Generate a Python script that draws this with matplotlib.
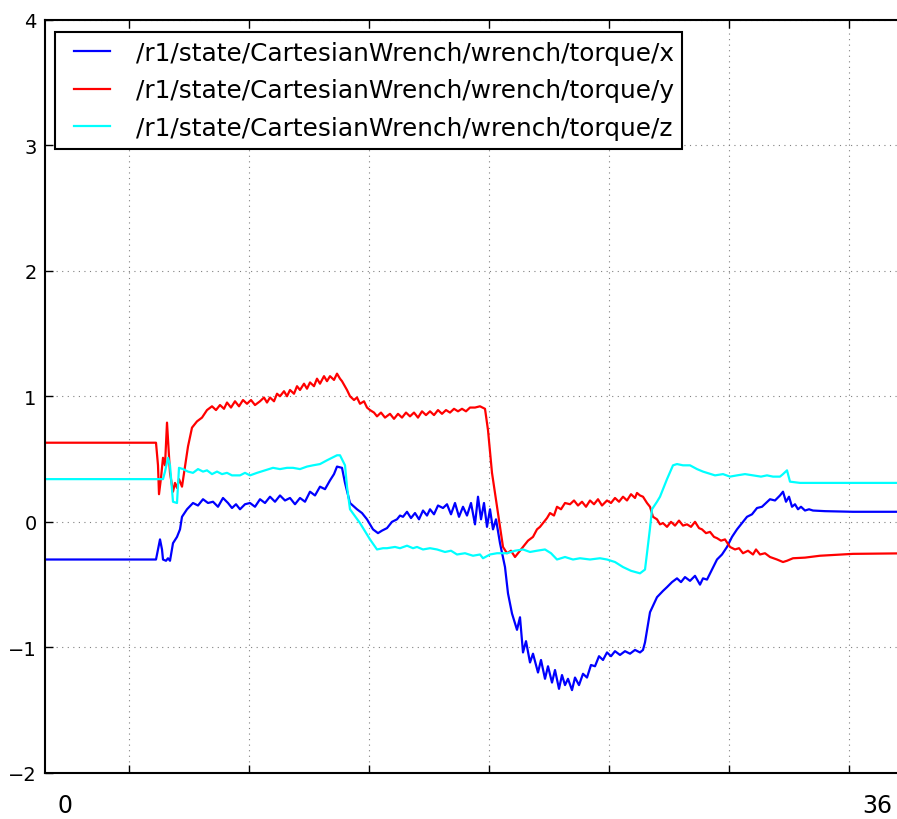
import matplotlib
matplotlib.use("Agg")
import matplotlib.pyplot as plt
from matplotlib.legend_handler import HandlerLine2D

# sample index (1 sample ~ one step of the recorder), value
tx = [0, 111, 113, 115, 117, 118, 121, 123, 125, 128, 132, 135, 137, 142, 148, 153, 158, 163, 168, 173,
      178, 183, 187, 191, 195, 200, 205, 210, 215, 220, 225, 230, 235, 240, 245, 250, 255, 260, 265, 270,
      275, 280, 285, 289, 292, 297, 300, 305, 312, 317, 322, 328, 333, 337, 342, 347, 352, 355, 358, 362,
      366, 370, 374, 378, 382, 385, 389, 393, 398, 402, 406, 410, 414, 418, 422, 426, 430, 433, 436, 439,
      442, 445, 448, 451, 455, 460, 463, 467, 472, 475, 478, 481, 485, 488, 493, 496, 500, 503, 507, 510,
      514, 517, 520, 523, 527, 530, 534, 538, 542, 546, 550, 554, 558, 562, 566, 570, 575, 580, 585, 590,
      595, 598, 600, 605, 612, 618, 622, 627, 632, 636, 640, 645, 650, 655, 658, 662, 667, 672, 677, 682,
      687, 692, 697, 702, 707, 712, 717, 725, 730, 735, 738, 741, 744, 747, 750, 753, 756, 760, 764, 768,
      780, 808, 870]
vx = [-0.30, -0.30, -0.22, -0.14, -0.22, -0.30, -0.31, -0.29, -0.31, -0.17, -0.12, -0.06, 0.04, 0.10, 0.15, 0.13, 0.18, 0.15, 0.16, 0.12,
      0.19, 0.15, 0.11, 0.14, 0.10, 0.14, 0.15, 0.12, 0.18, 0.15, 0.20, 0.16, 0.21, 0.17, 0.19, 0.14, 0.19, 0.16, 0.24, 0.21,
      0.28, 0.26, 0.33, 0.38, 0.44, 0.43, 0.31, 0.15, 0.10, 0.07, 0.02, -0.06, -0.09, -0.07, -0.05, 0.00, 0.02, 0.05, 0.04, 0.08,
      0.03, 0.07, 0.02, 0.09, 0.05, 0.10, 0.06, 0.13, 0.11, 0.14, 0.06, 0.15, 0.04, 0.12, 0.05, 0.15, -0.02, 0.20, 0.02, 0.15,
      -0.04, 0.10, -0.06, 0.02, -0.17, -0.36, -0.57, -0.73, -0.86, -0.76, -1.04, -0.95, -1.12, -1.05, -1.20, -1.10, -1.25, -1.15, -1.28, -1.18,
      -1.33, -1.22, -1.30, -1.25, -1.34, -1.24, -1.30, -1.21, -1.24, -1.14, -1.15, -1.07, -1.10, -1.04, -1.07, -1.03, -1.06, -1.03, -1.05, -1.02,
      -1.04, -1.02, -0.96, -0.72, -0.60, -0.55, -0.52, -0.48, -0.45, -0.48, -0.44, -0.47, -0.43, -0.50, -0.45, -0.46, -0.38, -0.30, -0.26, -0.20,
      -0.12, -0.06, -0.01, 0.04, 0.06, 0.11, 0.12, 0.18, 0.17, 0.21, 0.24, 0.16, 0.20, 0.12, 0.14, 0.10, 0.12, 0.09, 0.10, 0.09,
      0.085, 0.08, 0.08]

ty = [0, 111, 113, 114, 116, 118, 120, 122, 125, 128, 130, 132, 134, 137, 140, 143, 147, 152, 157, 162,
      167, 171, 175, 179, 182, 186, 190, 194, 198, 202, 206, 210, 215, 219, 222, 225, 229, 232, 235, 239,
      242, 245, 249, 252, 255, 259, 262, 265, 269, 272, 275, 279, 282, 285, 289, 292, 295, 297, 302, 305,
      309, 312, 315, 319, 322, 325, 329, 332, 336, 340, 345, 349, 353, 357, 361, 365, 369, 373, 377, 381,
      385, 389, 393, 397, 401, 405, 409, 413, 417, 421, 425, 430, 435, 440, 443, 447, 452, 458, 462, 466,
      470, 474, 478, 483, 488, 492, 495, 498, 502, 505, 509, 512, 516, 520, 525, 529, 533, 537, 541, 545,
      549, 553, 557, 562, 566, 570, 574, 578, 582, 586, 590, 592, 595, 598, 602, 605, 608, 612, 615, 618,
      622, 626, 630, 634, 638, 642, 646, 650, 654, 657, 661, 665, 669, 672, 676, 680, 685, 690, 694, 698,
      703, 708, 711, 715, 720, 725, 732, 738, 742, 748, 760, 775, 808, 870]
vy = [0.63, 0.63, 0.45, 0.22, 0.35, 0.51, 0.45, 0.79, 0.39, 0.24, 0.31, 0.27, 0.34, 0.28, 0.44, 0.60, 0.75, 0.80, 0.83, 0.89,
      0.92, 0.89, 0.93, 0.90, 0.95, 0.91, 0.96, 0.92, 0.97, 0.94, 0.97, 0.93, 0.96, 0.99, 0.95, 0.99, 0.96, 1.02, 1.00, 1.04,
      1.00, 1.05, 1.02, 1.08, 1.05, 1.10, 1.06, 1.11, 1.08, 1.14, 1.10, 1.16, 1.12, 1.16, 1.13, 1.18, 1.14, 1.12, 1.05, 1.00,
      0.97, 0.99, 0.94, 0.96, 0.91, 0.89, 0.87, 0.84, 0.87, 0.83, 0.86, 0.82, 0.86, 0.83, 0.87, 0.84, 0.87, 0.83, 0.88, 0.85,
      0.88, 0.85, 0.89, 0.86, 0.89, 0.87, 0.90, 0.88, 0.90, 0.88, 0.91, 0.91, 0.92, 0.90, 0.73, 0.39, 0.12, -0.20, -0.25, -0.23,
      -0.28, -0.24, -0.20, -0.15, -0.12, -0.06, -0.04, -0.01, 0.03, 0.07, 0.05, 0.12, 0.10, 0.15, 0.14, 0.17, 0.13, 0.16, 0.12, 0.17,
      0.14, 0.18, 0.13, 0.17, 0.15, 0.19, 0.16, 0.20, 0.17, 0.22, 0.19, 0.23, 0.21, 0.20, 0.15, 0.12, 0.04, 0.02, -0.02, -0.01,
      -0.04, 0.00, -0.03, 0.01, -0.03, -0.02, -0.04, 0.00, -0.05, -0.06, -0.09, -0.08, -0.12, -0.13, -0.15, -0.14, -0.20, -0.22, -0.21, -0.25,
      -0.23, -0.26, -0.22, -0.26, -0.25, -0.28, -0.30, -0.32, -0.31, -0.29, -0.285, -0.27, -0.255, -0.25]

tz = [0, 118, 120, 123, 125, 128, 132, 134, 138, 143, 148, 153, 158, 162, 167, 172, 177, 182, 187, 195,
      200, 205, 212, 220, 228, 235, 242, 248, 255, 262, 268, 275, 282, 287, 292, 295, 300, 302, 305, 315,
      325, 332, 338, 342, 350, 355, 362, 368, 372, 378, 385, 392, 400, 406, 412, 420, 428, 435, 438, 445,
      452, 462, 470, 478, 485, 492, 500, 506, 512, 520, 528, 535, 545, 555, 562, 570, 578, 586, 595, 600,
      602, 605, 607, 612, 615, 622, 628, 632, 638, 645, 652, 658, 662, 670, 678, 685, 692, 700, 708, 716,
      722, 728, 735, 738, 742, 745, 755, 775, 870]
vz = [0.34, 0.34, 0.40, 0.51, 0.45, 0.16, 0.15, 0.43, 0.42, 0.40, 0.39, 0.42, 0.40, 0.41, 0.38, 0.40, 0.38, 0.39, 0.37, 0.37,
      0.39, 0.37, 0.39, 0.41, 0.43, 0.42, 0.43, 0.43, 0.42, 0.44, 0.45, 0.46, 0.49, 0.51, 0.53, 0.53, 0.45, 0.28, 0.10, -0.01,
      -0.14, -0.22, -0.21, -0.21, -0.20, -0.21, -0.19, -0.21, -0.20, -0.22, -0.21, -0.22, -0.24, -0.23, -0.26, -0.25, -0.27, -0.26, -0.29, -0.26,
      -0.25, -0.25, -0.23, -0.22, -0.24, -0.23, -0.22, -0.25, -0.30, -0.28, -0.30, -0.29, -0.30, -0.29, -0.30, -0.32, -0.36, -0.39, -0.41, -0.38,
      -0.25, -0.05, 0.10, 0.16, 0.20, 0.34, 0.45, 0.46, 0.45, 0.45, 0.42, 0.40, 0.39, 0.37, 0.38, 0.36, 0.37, 0.38, 0.37, 0.36,
      0.37, 0.36, 0.36, 0.38, 0.41, 0.32, 0.31, 0.31, 0.31]

labels = ["/r1/state/CartesianWrench/wrench/torque/x",
          "/r1/state/CartesianWrench/wrench/torque/y",
          "/r1/state/CartesianWrench/wrench/torque/z"]
colors = ["blue", "red", "cyan"]
xticks = [84, 204, 324, 444, 564, 684, 804]
yticks = [-2, -1, 0, 1, 2, 3, 4]
ytick_labels = ["\u22122", "\u22121", "0", "1", "2", "3", "4"]

W, H = 897, 820
fig = plt.figure(figsize=(W / 100, H / 100), dpi=100)
ax = fig.add_axes([45 / W, 46 / H, 864 / W, 753.5 / H])
lines = []
for t, v, c, lab in zip([tx, ty, tz], [vx, vy, vz], colors, labels):
    ln, = ax.plot(t, v, color=c, lw=1.6, label=lab)
    lines.append(ln)
ax.set_xlim(0, 864)
ax.set_ylim(-2, 4)
ax.set_xticks(xticks)
ax.set_xticklabels([])
ax.set_yticks(yticks)
ax.set_yticklabels(ytick_labels, fontsize=14)
ax.tick_params(direction="in", length=6, width=1, top=True, right=True, pad=6)
ax.grid(True, linestyle=(0, (1, 4)), color="0.5", lw=0.8)
for s in ax.spines.values():
    s.set_linewidth(1.5)
hm = {ln: HandlerLine2D(xpad=0.4) for ln in lines}
leg = ax.legend(loc="upper left", bbox_to_anchor=(10 / 864, 1 - 12.5 / 753.5), fontsize=17.8,
                frameon=True, fancybox=False, edgecolor="black", framealpha=1,
                handlelength=1.86, borderaxespad=0, borderpad=0.35, labelspacing=0.55,
                handletextpad=1.05, handler_map=hm)
leg.get_frame().set_linewidth(1.5)
fig.text(65 / W, 1 - 806 / H, "0", fontsize=17, ha="center", va="center")
fig.text(877 / W, 1 - 806 / H, "36", fontsize=17, ha="center", va="center")
fig.savefig("out.png", dpi=100)
